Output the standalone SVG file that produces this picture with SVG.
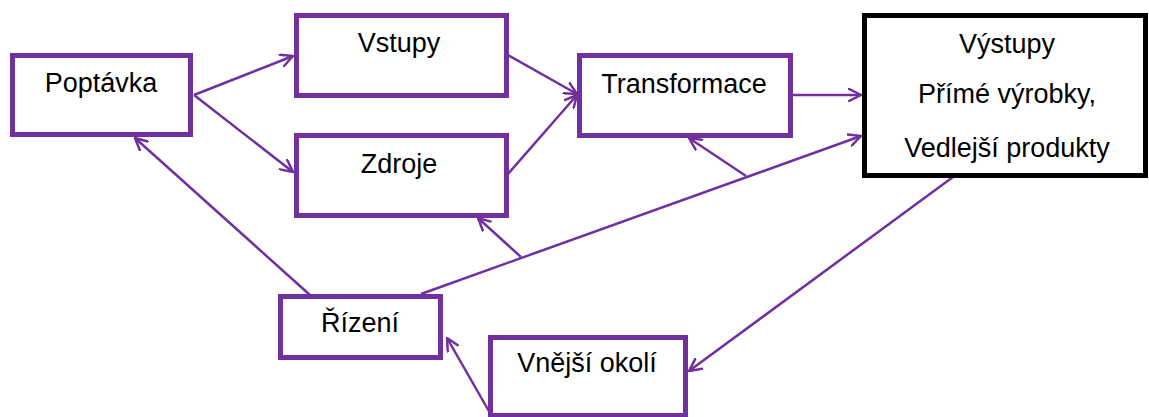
<svg xmlns="http://www.w3.org/2000/svg" width="1149" height="417" viewBox="0 0 1149 417">
  <style>
    .box { fill: #ffffff; stroke: #7030a0; stroke-width: 5; }
    .box-main { fill: #ffffff; stroke: #000000; stroke-width: 5; }
    .lbl { font-family: "Liberation Sans", Arial, sans-serif; font-size: 27px; fill: #000000; text-anchor: middle; }
    .link { fill: none; stroke: #7030a0; stroke-width: 2.5; }
  </style>
  <defs>
    <marker id="arrow" viewBox="0 0 14 14" refX="13" refY="7" markerWidth="14" markerHeight="14" markerUnits="userSpaceOnUse" orient="auto">
      <path d="M1,1 L13,7 L1,13" fill="none" stroke="#7030a0" stroke-width="2.5" stroke-linecap="round" stroke-linejoin="round"/>
    </marker>
  </defs>

  <rect width="1149" height="417" fill="#ffffff"/>

  <g id="connectors">
    <line class="link" x1="194" y1="95" x2="293" y2="56" marker-end="url(#arrow)"/>
    <line class="link" x1="194" y1="95" x2="293" y2="172" marker-end="url(#arrow)"/>
    <line class="link" x1="508" y1="55" x2="577" y2="94" marker-end="url(#arrow)"/>
    <line class="link" x1="508" y1="174" x2="577" y2="95" marker-end="url(#arrow)"/>
    <line class="link" x1="792" y1="95" x2="861" y2="95" marker-end="url(#arrow)"/>
    <line class="link" x1="421" y1="294" x2="861" y2="136" marker-end="url(#arrow)"/>
    <line class="link" x1="746" y1="176" x2="689" y2="138" marker-end="url(#arrow)"/>
    <line class="link" x1="521" y1="257" x2="478" y2="218" marker-end="url(#arrow)"/>
    <line class="link" x1="310" y1="295" x2="135" y2="138" marker-end="url(#arrow)"/>
    <line class="link" x1="953" y1="177" x2="689" y2="371" marker-end="url(#arrow)"/>
    <line class="link" x1="490" y1="413" x2="447" y2="338" marker-end="url(#arrow)"/>
  </g>

  <g id="poptavka">
    <rect class="box" x="12.5" y="55.5" width="178" height="79"/>
    <text class="lbl" x="101" y="92">Poptávka</text>
  </g>
  <g id="vstupy">
    <rect class="box" x="296.5" y="15.5" width="210" height="80"/>
    <text class="lbl" x="399" y="52">Vstupy</text>
  </g>
  <g id="zdroje">
    <rect class="box" x="296.5" y="135.5" width="210" height="80"/>
    <text class="lbl" x="399" y="173">Zdroje</text>
  </g>
  <g id="transformace">
    <rect class="box" x="579.5" y="55.5" width="211" height="80"/>
    <text class="lbl" x="684" y="93">Transformace</text>
  </g>
  <g id="vystupy">
    <rect class="box-main" x="864.5" y="15.5" width="281" height="160"/>
    <text class="lbl" x="1007" y="53">Výstupy</text>
    <text class="lbl" x="1007" y="103">Přímé výrobky,</text>
    <text class="lbl" x="1007" y="157">Vedlejší produkty</text>
  </g>
  <g id="rizeni">
    <rect class="box" x="280.5" y="296.5" width="160" height="61"/>
    <text class="lbl" x="360" y="332">Řízení</text>
  </g>
  <g id="vnejsi-okoli">
    <rect class="box" x="490.5" y="337.5" width="195" height="78"/>
    <text class="lbl" x="587" y="372">Vnější okolí</text>
  </g>
</svg>
